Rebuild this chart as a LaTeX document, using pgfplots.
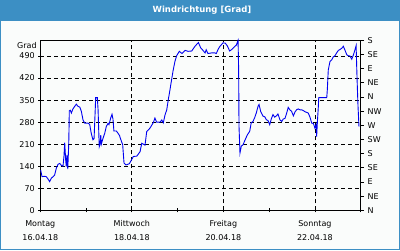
\documentclass[border=0pt]{standalone}
\usepackage{pgfplots}
\pgfplotsset{compat=1.18}
\usepackage{fontspec}
\setmainfont{DejaVu Sans}
\definecolor{tbar}{RGB}{60,143,196}
\definecolor{bgc}{RGB}{250,252,251}
\definecolor{lineblue}{RGB}{0,0,240}
\begin{document}
\begin{tikzpicture}[x=1pt,y=1pt]
\useasboundingbox (0,0) rectangle (400,250);
\fill[tbar] (0,0) rectangle (400,250);
\fill[bgc] (1,1) rectangle (399,229.5);
\node[text=white,font=\bfseries\fontsize{8.5}{10}\selectfont] at (202,240) {Windrichtung [Grad]};
\begin{axis}[
  at={(40.3pt,39.7pt)}, anchor=south west, scale only axis,
  width=320.4pt, height=170pt,
  xmin=0, xmax=168, ymin=0, ymax=540,
  xtick={0,48,96,144}, minor xtick={24,72,120,168},
  xticklabels={{Montag\\16.04.18},{Mittwoch\\18.04.18},{Freitag\\20.04.18},{Sonntag\\22.04.18}},
  ytick={0,70,...,490}, yticklabels={0,70,140,210,280,350,420,490},
  xtick pos=bottom, ytick pos=left,
  tick align=center, major tick length=4pt, minor tick length=4pt,
  ymajorgrids, xmajorgrids,
  grid style={black, line width=0.8pt, dash pattern=on 4pt off 3pt},
  axis line style={black, line width=0.8pt},
  every tick/.style={black, line width=0.8pt},
  xticklabel style={align=center, font=\fontsize{8}{14}\selectfont, text=black, yshift=-5pt},
  yticklabel style={font=\fontsize{8}{10}\selectfont, text=black},
  /pgf/number format/assume math mode=true,
  clip=false,
]
\addplot[lineblue, line width=0.9pt] coordinates {
(0.2,128)(0.9,107)(2.3,108)(3.1,107)(4.0,100)(4.9,91)(5.8,102)(6.7,107)(7.5,112)(8.4,134)(9.3,146)(10.2,149)(11.0,143)(11.9,140)(12.4,171)(12.8,215)(13.3,160)(13.6,139)(14.0,176)(14.4,131)(14.9,208)(15.1,271)(15.2,316)(15.7,318)(16.3,309)(17.1,322)(18.0,330)(18.9,337)(19.8,330)(20.7,328)(21.5,315)(22.4,287)(23.3,277)(25.0,277)(25.9,273)(26.7,245)(27.6,224)(28.2,228)(28.9,335)(29.0,358)(29.9,358)(30.3,319)(30.6,260)(30.9,202)(31.3,210)(31.7,239)(32.0,210)(32.9,229)(33.8,245)(34.6,266)(35.5,276)(36.0,272)(36.9,293)(37.6,305)(38.1,290)(38.6,252)(39.9,252)(40.7,245)(41.6,237)
(41.8,232)(43.2,208)(43.9,150)(44.9,144)(46.7,148)(48.8,171)(50.6,172)(52.3,186)(53.2,213)(54.9,207)(55.8,250)(57.5,261)(59.3,279)(60.1,293)(61.0,280)(62.8,280)(63.7,287)(64.5,278)(65.4,303)(66.3,319)(67.1,351)(68.0,383)(68.9,417)(69.7,446)(70.6,473)(71.5,491)(72.9,505)(74.3,498)(75.9,508)(77.5,505)(79.4,506)(81.1,521)(82.9,533)
(84.1,516)(85.3,508)(86.4,500)(87.0,510)(87.9,498)(89.9,500)(91.6,500)(92.3,498)(93.2,511)(94.1,520)(95.8,532)(97.0,531)(98.1,522)(99.3,506)(100.2,510)(101.6,518)(102.8,525)(103.7,540)(104.0,447)(104.2,265)(104.7,182)(105.4,204)(106.3,208)(107.2,221)(108.5,239)(109.8,251)(110.6,278)(111.5,282)(112.4,294)(113.3,310)(114.2,331)(114.7,336)(115.6,313)(116.8,299)(117.7,297)(118.5,288)(119.4,285)(120.3,272)(121.1,290)(122.0,304)(122.9,296)(123.8,300)(124.6,306)
(125.7,287)(126.6,282)(127.4,290)(128.3,292)(129.2,309)(130.0,327)(130.9,319)(131.8,314)(132.7,300)(133.6,313)(134.5,320)(135.3,322)(136.2,319)(137.1,319)(137.9,317)(138.8,313)(139.7,311)(140.5,309)(141.4,296)(142.3,277)(143.2,276)(144.0,261)(144.6,272)(144.9,234)(145.3,282)(145.8,330)(146.0,358)(147.6,358)(149.3,358)(150.2,358)(150.5,383)(151.0,446)(151.9,473)(152.8,478)(153.6,487)(154.5,491)(155.4,500)(156.3,508)(157.2,511)(158.1,515)(158.9,521)(159.8,508)(160.7,494)(161.5,491)(162.4,490)(163.3,480)(164.2,494)(165.0,510)(165.6,523)(165.9,457)(166.3,380)(166.6,330)(167.1,266)
};
\node[anchor=north east, inner sep=0pt, font=\fontsize{8}{10}\selectfont] at (rel axis cs:0,1) [xshift=-3.5pt, yshift=-1.5pt] {Grad};
\end{axis}
\begin{axis}[
  at={(40.3pt,39.7pt)}, anchor=south west, scale only axis,
  width=320.4pt, height=170pt,
  xmin=0, xmax=168, ymin=0, ymax=540,
  hide x axis, axis y line*=right,
  y axis line style={-, black, line width=0.8pt},
  ytick={0,45,...,540},
  yticklabels={N,NE,E,SE,S,SW,W,NW,N,NE,E,SE,S},
  tick align=outside, major tick length=3.5pt,
  every tick/.style={black, line width=0.8pt},
  yticklabel style={font=\fontsize{8}{10}\selectfont, text=black},
]
\end{axis}
\end{tikzpicture}
\end{document}
